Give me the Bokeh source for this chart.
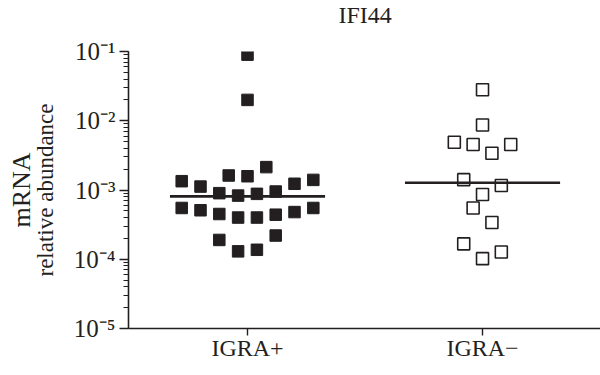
from bokeh.plotting import figure
from bokeh.models import FixedTicker, LogTicker, CustomJSTickFormatter, ColumnDataSource, LogAxis, Title
from bokeh.embed import file_html
from bokeh.resources import INLINE

# ---- data ----
categories = ["IGRA+", "IGRA\u2212"]
cat_pos = [1, 2]

igra_pos_values = [0.09, 0.02,
                   1.34e-3, 1.12e-3, 1.62e-3, 1.58e-3, 2.14e-3, 1.23e-3, 1.40e-3,
                   9.0e-4, 8.3e-4, 8.8e-4, 9.5e-4,
                   5.5e-4, 5.1e-4, 4.5e-4, 4.0e-4, 4.0e-4, 4.4e-4, 4.8e-4, 5.5e-4,
                   1.9e-4, 1.3e-4, 1.37e-4, 2.2e-4]
igra_pos_jitter = [0, 0,
                   -0.28, -0.2, -0.08, 0, 0.08, 0.2, 0.28,
                   -0.12, -0.04, 0.04, 0.12,
                   -0.28, -0.2, -0.12, -0.04, 0.04, 0.12, 0.2, 0.28,
                   -0.12, -0.04, 0.04, 0.12]

igra_neg_values = [0.028, 8.7e-3, 4.9e-3, 4.55e-3, 3.4e-3, 4.55e-3,
                   1.41e-3, 1.16e-3, 8.6e-4, 5.5e-4, 3.4e-4,
                   1.67e-4, 1.02e-4, 1.27e-4]
igra_neg_jitter = [0, 0, -0.12, -0.04, 0.04, 0.12,
                   -0.08, 0.08, 0, -0.04, 0.04,
                   -0.08, 0, 0.08]

medians = [8.1e-4, 1.27e-3]
median_half_width = 0.33

title_text = "IFI44"
ylabel_top = "mRNA"
ylabel_bottom = "relative abundance"

INK = "#231f20"
FONT = "Liberation Serif"

p = figure(width=600, height=375, y_axis_type="log",
           x_range=(0.4936, 2.502), y_range=(1e-5, 1e-1),
           output_backend="svg", toolbar_location=None,
           min_border_left=128, min_border_right=0,
           min_border_top=51, min_border_bottom=47)
p.outline_line_color = None
p.grid.visible = False
p.background_fill_color = "white"
p.border_fill_color = "white"

# points
src_pos = ColumnDataSource(dict(x=[cat_pos[0] + j for j in igra_pos_jitter], y=igra_pos_values))
src_neg = ColumnDataSource(dict(x=[cat_pos[1] + j for j in igra_neg_jitter], y=igra_neg_values))
p.scatter("x", "y", source=src_pos, marker="square", size=11.5,
          fill_color=INK, line_color=INK, line_width=1)
p.scatter("x", "y", source=src_neg, marker="square", size=12,
          fill_color="white", line_color=INK, line_width=1.6)

# medians
p.segment(x0=[c - median_half_width for c in cat_pos], x1=[c + median_half_width for c in cat_pos],
          y0=medians, y1=medians, line_color=INK, line_width=2.6)

# y axis
ya = p.yaxis[0]
ya.ticker = LogTicker(num_minor_ticks=10)
ya.formatter = CustomJSTickFormatter(code="""
const sup = {"-": "\\u207b", "0": "\\u2070", "1": "\\u00b9", "2": "\\u00b2", "3": "\\u00b3",
             "4": "\\u2074", "5": "\\u2075", "6": "\\u2076", "7": "\\u2077", "8": "\\u2078", "9": "\\u2079"};
const e = Math.round(Math.log10(tick));
return "10" + String(e).split("").map(c => sup[c]).join("");
""")
ya.major_tick_out = 9
ya.major_tick_in = 0
ya.minor_tick_out = 5
ya.minor_tick_in = 0
ya.axis_line_width = 1.6
ya.major_tick_line_width = 1.4
ya.minor_tick_line_width = 1.2
ya.axis_line_color = INK
ya.major_tick_line_color = INK
ya.minor_tick_line_color = INK
ya.major_label_text_font = FONT
ya.major_label_text_font_size = "25px"
ya.major_label_text_color = INK
ya.major_label_standoff = 4
ya.axis_label = ylabel_bottom
ya.axis_label_text_font = FONT
ya.axis_label_text_font_size = "23px"
ya.axis_label_text_font_style = "normal"
ya.axis_label_text_color = INK
ya.axis_label_standoff = 13

# outer left axis carrying only the "mRNA" label
ya2 = LogAxis(ticker=FixedTicker(ticks=[]), axis_line_color=None,
              major_tick_line_color=None, minor_tick_line_color=None,
              major_tick_out=0, minor_tick_out=0, major_tick_in=0, minor_tick_in=0,
              major_label_standoff=0, axis_label=ylabel_top, axis_label_standoff=-6,
              axis_label_text_font=FONT, axis_label_text_font_size="26px",
              axis_label_text_font_style="normal", axis_label_text_color=INK)
p.add_layout(ya2, "left")

# x axis
xa = p.xaxis[0]
xa.ticker = FixedTicker(ticks=cat_pos, minor_ticks=[])
xa.major_label_overrides = {c: t for c, t in zip(cat_pos, categories)}
xa.major_tick_out = 7
xa.major_tick_in = 0
xa.minor_tick_out = 0
xa.minor_tick_in = 0
xa.axis_line_width = 1.6
xa.major_tick_line_width = 1.4
xa.axis_line_color = INK
xa.major_tick_line_color = INK
xa.major_label_text_font = FONT
xa.major_label_text_font_size = "24px"
xa.major_label_text_color = INK
xa.major_label_standoff = -1

# white spacer (inner, first added) so that the real title (outer) sits near the top edge
p.add_layout(Title(text=".", text_font_size="2px", standoff=19, text_color="white"), "above")
p.add_layout(Title(text=title_text, align="left", offset=210, vertical_align="top", standoff=0,
                   text_font=FONT, text_font_size="24px", text_font_style="normal",
                   text_color=INK), "above")

open("out.html", "w").write(file_html(p, INLINE))
